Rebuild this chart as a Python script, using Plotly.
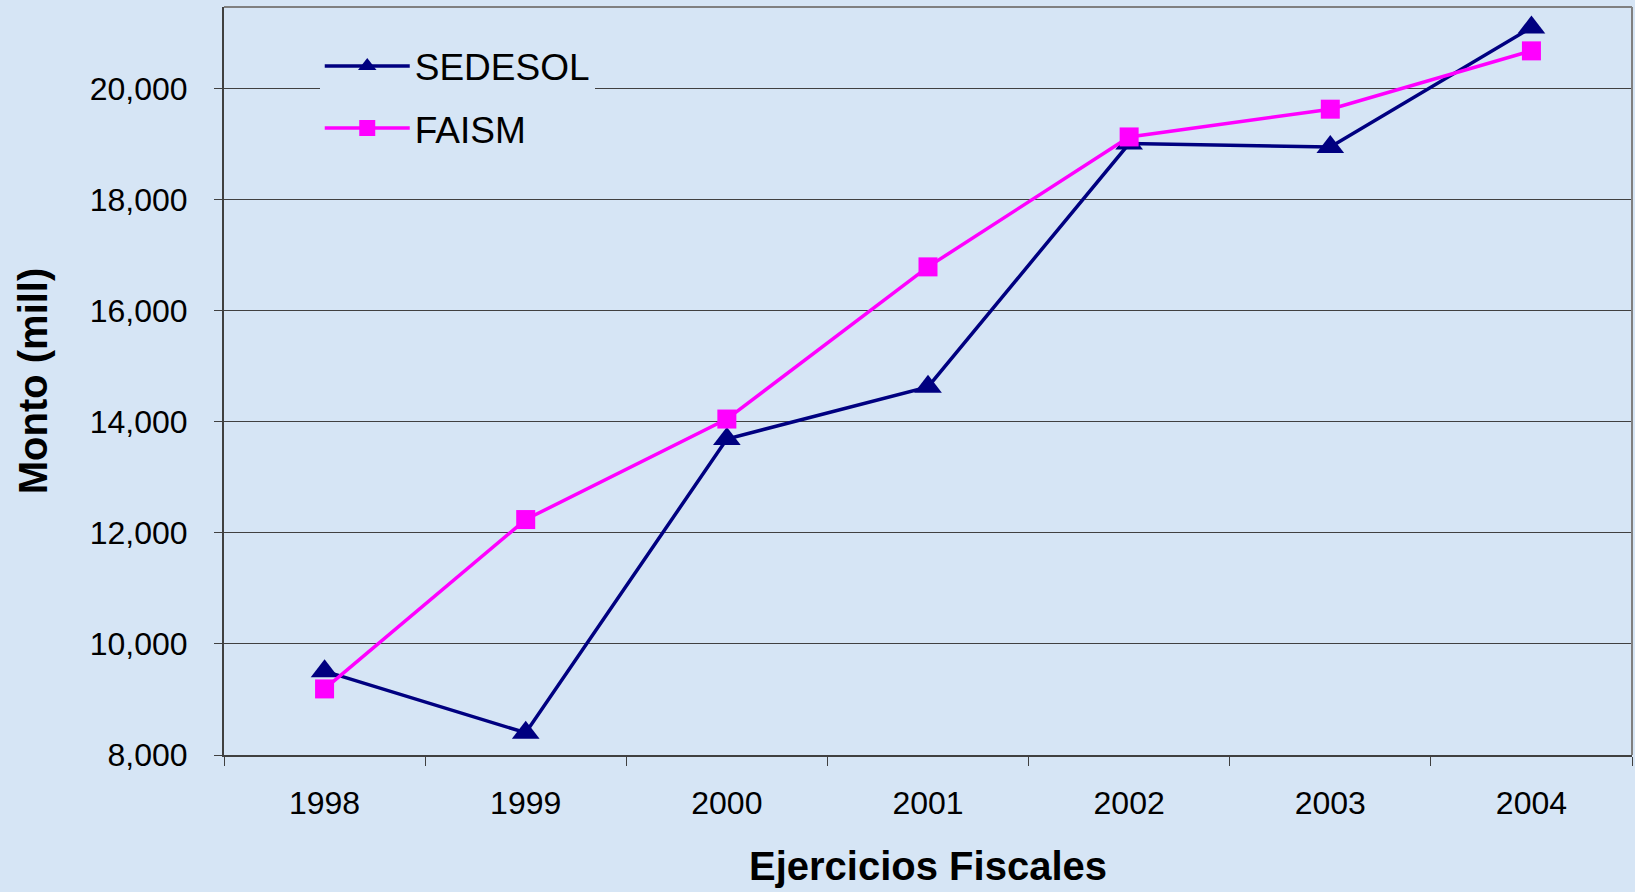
import plotly.graph_objects as go

years = ["1998", "1999", "2000", "2001", "2002", "2003", "2004"]
sedesol = [9510, 8400, 13690, 14630, 19010, 18950, 21100]
faism = [9190, 12240, 14050, 16790, 19130, 19630, 20680]
y_ticks = [8000, 10000, 12000, 14000, 16000, 18000, 20000]
y_tick_labels = ["8,000", "10,000", "12,000", "14,000", "16,000", "18,000", "20,000"]

BG = "#d6e5f5"
FONT = "Liberation Sans, Arial, sans-serif"

fig = go.Figure()
fig.add_trace(go.Scatter(
    x=years, y=sedesol, name="SEDESOL", mode="lines+markers", legendgroup="a",
    line=dict(color="#000080", width=3.5),
    marker=dict(symbol="triangle-up", size=24, color="#000080"),
))
fig.add_trace(go.Scatter(
    x=years, y=faism, name="FAISM", mode="lines+markers", legendgroup="b",
    line=dict(color="#ff00ff", width=3.5),
    marker=dict(symbol="square", size=19, color="#ff00ff"),
))

fig.update_layout(
    width=1635, height=892,
    margin=dict(l=224, r=3, t=7, b=137),
    paper_bgcolor=BG, plot_bgcolor=BG,
    font=dict(family=FONT, color="black"),
    showlegend=True,
    legend=dict(
        x=0.068, y=0.962, xanchor="left", yanchor="top",
        bgcolor=BG, borderwidth=0,
        font=dict(size=37, family=FONT),
        itemwidth=85, tracegroupgap=11,
    ),
    xaxis=dict(
        type="category", range=[-0.5, 6.5],
        tickson="boundaries", ticks="outside", ticklen=9, tickwidth=1, tickcolor="#404040",
        showline=True, linecolor="#404040", linewidth=2, mirror=False,
        showgrid=False,
        tickfont=dict(size=32, family=FONT),
        ticklabelstandoff=19,
        title=dict(text="<b>Ejercicios Fiscales</b>", font=dict(size=40, family=FONT), standoff=32),
    ),
    yaxis=dict(
        range=[8000, 21470],
        tickvals=y_ticks, ticktext=y_tick_labels,
        ticks="outside", ticklen=8, tickwidth=1, tickcolor="#404040",
        showline=True, linecolor="#404040", linewidth=2,
        showgrid=True, gridcolor="#404040", gridwidth=1,
        zeroline=False,
        tickfont=dict(size=32, family=FONT),
        ticklabelstandoff=20,
        title=dict(text="<b>Monto (mill)</b>", font=dict(size=40, family=FONT), standoff=30),
    ),
    shapes=[
        dict(type="line", xref="paper", yref="paper", x0=0, x1=1, y0=1, y1=1,
             line=dict(color="#808080", width=2)),
        dict(type="line", xref="paper", yref="paper", x0=1, x1=1, y0=0, y1=1,
             line=dict(color="#808080", width=2)),
    ],
)

fig.write_html("out.html", config={"displayModeBar": False},
               post_script="document.body.style.margin='0';")
